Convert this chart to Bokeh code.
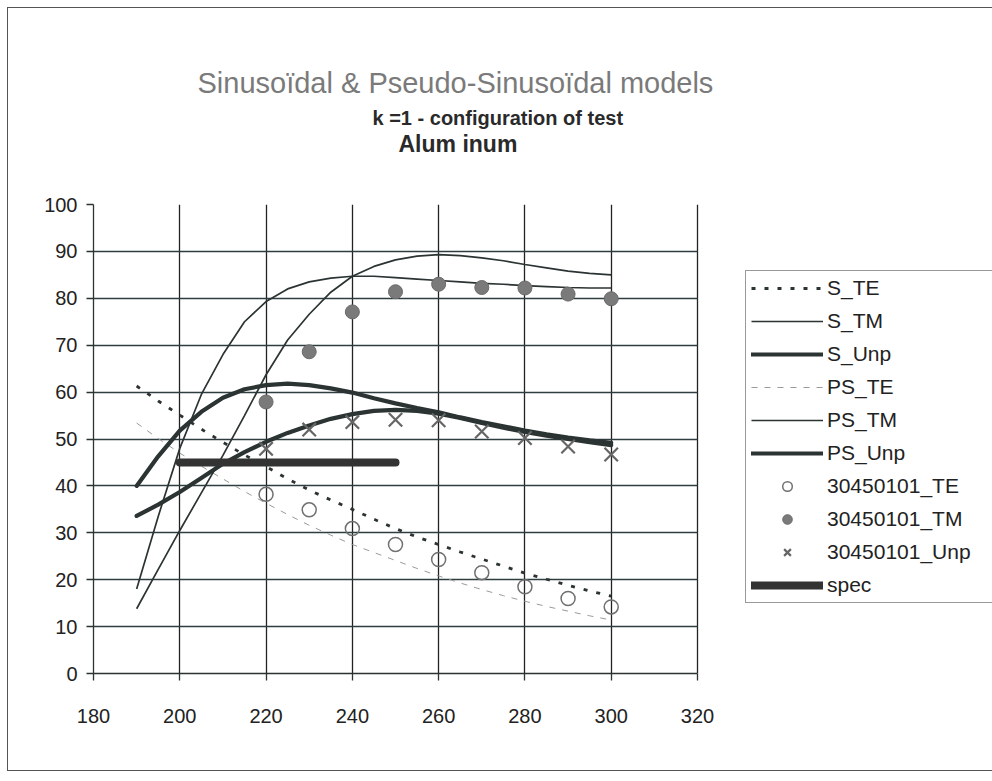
from bokeh.plotting import figure
from bokeh.models import Range1d, Legend, LegendItem, Title, FixedTicker
from bokeh.embed import file_html
from bokeh.resources import INLINE

# ---- data ----
wavelength = [190, 195, 200, 205, 210, 215, 220, 225, 230, 235, 240, 245,
              250, 255, 260, 265, 270, 275, 280, 285, 290, 295, 300]

s_te = [61.3, 58.1, 55.1, 52.1, 49.3, 46.6, 44.1, 41.5, 39.1, 37.0, 35.0, 32.9,
        30.9, 29.1, 27.5, 25.9, 24.4, 22.9, 21.4, 20.1, 18.8, 17.6, 16.5]
s_tm = [18.0, 33.5, 48.0, 59.5, 68.0, 75.0, 79.3, 82.0, 83.5, 84.3, 84.7, 84.7,
        84.4, 84.1, 83.8, 83.5, 83.2, 83.0, 82.7, 82.5, 82.3, 82.2, 82.2]
s_unp = [40.0, 46.3, 51.8, 55.8, 58.8, 60.6, 61.5, 61.8, 61.5, 60.8, 59.9, 58.7,
         57.6, 56.6, 55.7, 54.6, 53.6, 52.7, 51.8, 51.0, 50.3, 49.7, 49.2]
ps_te = [53.4, 50.1, 47.0, 44.2, 41.5, 38.8, 36.3, 33.9, 31.6, 29.5, 27.5, 25.8,
         24.1, 22.4, 20.8, 19.3, 17.9, 16.6, 15.4, 14.3, 13.3, 12.3, 11.4]
ps_tm = [13.8, 22.2, 30.5, 38.5, 46.5, 55.0, 63.7, 71.1, 76.6, 81.3, 84.7, 86.8,
         88.2, 89.0, 89.3, 89.1, 88.6, 88.0, 87.2, 86.5, 85.8, 85.3, 85.0]
ps_unp = [33.6, 36.0, 38.7, 41.7, 44.7, 47.2, 49.4, 51.3, 52.9, 54.3, 55.3, 56.0,
          56.2, 56.0, 55.4, 54.5, 53.4, 52.4, 51.5, 50.7, 50.0, 49.3, 48.7]

meas_wl = [220, 230, 240, 250, 260, 270, 280, 290, 300]
meas_te = [38.2, 34.9, 30.9, 27.5, 24.3, 21.5, 18.5, 16.0, 14.2]
meas_tm = [57.9, 68.6, 77.1, 81.4, 83.0, 82.3, 82.2, 80.9, 79.9]
meas_unp = [47.9, 52.0, 53.6, 54.1, 54.0, 51.6, 50.2, 48.4, 46.7]

spec_wl = [200, 250]
spec_val = [45, 45]

x_ticks = [180, 200, 220, 240, 260, 280, 300, 320]
y_ticks = [0, 10, 20, 30, 40, 50, 60, 70, 80, 90, 100]

title_main = "Sinusoïdal & Pseudo-Sinusoïdal models"
title_sub = "k =1 - configuration of test"
title_mat = "Alum inum"

FONT = "Liberation Sans"
DARK = "#2b3333"
W, H = 992, 776
LEFT, RIGHT, TOP, BOTTOM = 93, 697, 204, 673   # plot-area edges in pixels

x_lo, x_hi = x_ticks[0], x_ticks[-1]
# the frame runs on to the right edge so the legend can sit beside the plot area
x_end = x_lo + (W - LEFT) * (x_hi - x_lo) / (RIGHT - LEFT)

p = figure(width=W, height=H, output_backend="svg", toolbar_location=None,
           x_range=Range1d(x_lo, x_end), y_range=Range1d(y_ticks[0], y_ticks[-1]),
           min_border_left=LEFT, min_border_right=0, min_border_top=TOP,
           min_border_bottom=H - BOTTOM)
p.title = None
p.background_fill_color = "white"
p.border_fill_color = None
p.outline_line_color = None
# outer chart border (top, left, bottom; right side is cut off as in the scan)
p.styles = {
    "background-color": "white",
    "background-image": ("linear-gradient(#555,#555), linear-gradient(#555,#555), "
                         "linear-gradient(#555,#555)"),
    "background-repeat": "no-repeat",
    "background-position": "7px 7px, 7px 7px, 7px 770px",
    "background-size": "1000px 1px, 1px 764px, 1000px 1px",
}

# titles (later-added sit further from the plot); a blank spacer sits closest
p.add_layout(Title(text=" ", standoff=35, text_font=FONT, text_font_size="10px"), "above")
p.add_layout(Title(text=title_mat, align="left", offset=305, standoff=0,
                   text_font=FONT, text_font_size="23px", text_font_style="bold",
                   text_color="#2a2a2a"), "above")
p.add_layout(Title(text=title_sub, align="left", offset=279, standoff=0,
                   text_font=FONT, text_font_size="20px", text_font_style="bold",
                   text_color="#2a2a2a"), "above")
p.add_layout(Title(text=title_main, align="left", offset=104, standoff=12,
                   text_font=FONT, text_font_size="29px", text_font_style="normal",
                   text_color="#7a7a7a"), "above")

for ax, ticks in ((p.xaxis[0], x_ticks), (p.yaxis[0], y_ticks)):
    ax.ticker = FixedTicker(ticks=ticks)
    ax.major_label_text_font = FONT
    ax.major_label_text_font_size = "20px"
    ax.major_label_text_color = "#222"
    ax.axis_line_color = DARK
    ax.axis_line_width = 1.3
    ax.major_tick_line_color = DARK
    ax.major_tick_line_width = 1.3
    ax.major_tick_out = 7
    ax.major_tick_in = 0
    ax.minor_tick_line_color = None
p.xaxis[0].bounds = (x_lo, x_hi)
p.yaxis[0].major_label_standoff = 9
p.xaxis[0].major_label_standoff = 28

p.xgrid.ticker = FixedTicker(ticks=x_ticks)
p.ygrid.ticker = FixedTicker(ticks=y_ticks)
p.xgrid.grid_line_color = "#222"
p.xgrid.grid_line_width = 1.3
p.xgrid.bounds = (x_lo, x_hi)
try:
    p.ygrid.cross_bounds = (x_lo, x_hi)
    p.ygrid.grid_line_color = "#2f3c40"
    p.ygrid.grid_line_width = 1.3
except Exception:
    p.ygrid.grid_line_color = None
    p.segment(x0=[x_lo] * len(y_ticks), x1=[x_hi] * len(y_ticks), y0=y_ticks,
              y1=y_ticks, line_color="#2f3c40", line_width=1.3)

r_ps_te = p.line(wavelength, ps_te, line_color="#9a9a9a", line_width=1, line_dash="6 7")
r_s_te = p.line(wavelength, s_te, line_color=DARK, line_width=2.8, line_dash="4 9")
r_s_tm = p.line(wavelength, s_tm, line_color=DARK, line_width=1.7)
r_ps_tm = p.line(wavelength, ps_tm, line_color=DARK, line_width=1.7)
r_s_unp = p.line(wavelength, s_unp, line_color=DARK, line_width=4.2, line_cap="round")
r_ps_unp = p.line(wavelength, ps_unp, line_color=DARK, line_width=4.2, line_cap="round")
r_spec = p.line(spec_wl, spec_val, line_color="#333", line_width=8, line_cap="round")

r_mte = p.scatter(meas_wl, meas_te, marker="circle", size=14, fill_color=None,
                  line_color="#707070", line_width=1.5)
r_mtm = p.scatter(meas_wl, meas_tm, marker="circle", size=14, fill_color="#7a7a7a",
                  line_color="#6a6a6a", line_width=1)
r_mun = p.scatter(meas_wl, meas_unp, marker="x", size=19, line_color="#666",
                  line_width=2.2)

items = [
    LegendItem(label="S_TE", renderers=[r_s_te]),
    LegendItem(label="S_TM", renderers=[r_s_tm]),
    LegendItem(label="S_Unp", renderers=[r_s_unp]),
    LegendItem(label="PS_TE", renderers=[r_ps_te]),
    LegendItem(label="PS_TM", renderers=[r_ps_tm]),
    LegendItem(label="PS_Unp", renderers=[r_ps_unp]),
    LegendItem(label="30450101_TE", renderers=[r_mte]),
    LegendItem(label="30450101_TM", renderers=[r_mtm]),
    LegendItem(label="30450101_Unp", renderers=[r_mun]),
    LegendItem(label="spec", renderers=[r_spec]),
]
legend = Legend(items=items, location=(745 - LEFT, BOTTOM - 603), orientation="vertical",
                border_line_color="#333", border_line_width=1.5,
                background_fill_color="white", background_fill_alpha=1,
                label_text_font=FONT, label_text_font_size="21px",
                label_text_color="#222", glyph_width=72, glyph_height=24,
                label_height=24, label_width=170, spacing=9, padding=5,
                margin=0, label_standoff=4)
p.add_layout(legend, "center")

open("out.html", "w").write(file_html(p, INLINE))
